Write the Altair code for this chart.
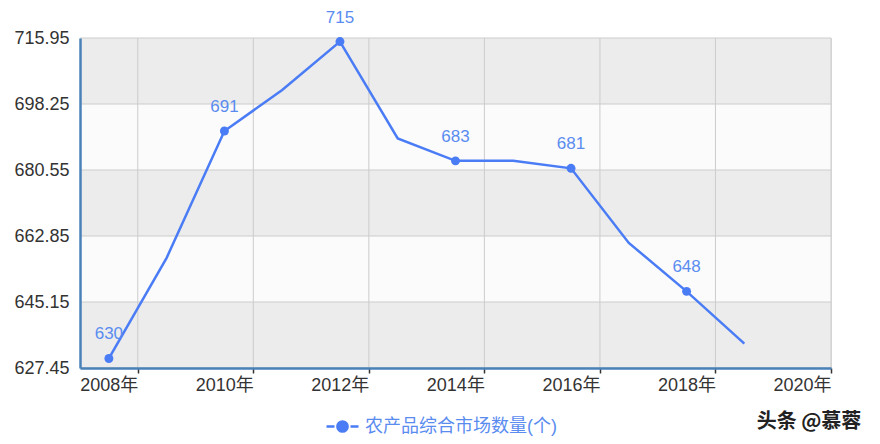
import altair as alt
import pandas as pd

# ---- data ----
years = [2007.5, 2008.5, 2009.5, 2010.5, 2011.5, 2012.5, 2013.5, 2014.5, 2015.5, 2016.5, 2017.5, 2018.5]
values = [630, 657, 691, 702, 715, 689, 683, 683, 681, 661, 648, 634]
labeled = [True, False, True, False, True, False, True, False, True, False, True, False]
y_ticks = [627.45, 645.15, 662.85, 680.55, 698.25, 715.95]
x_ticks = [2008, 2010, 2012, 2014, 2016, 2018, 2020]
x_domain = [2007, 2020]
series = "农产品综合市场数量(个)"
watermark = "头条 @慕蓉"

LINE = "#4a7cf5"
LABEL = "#5a8cf0"
AXIS = "#4a82b8"
FONT = "Liberation Sans, Arial, Noto Sans CJK SC"

df = pd.DataFrame({"year": years, "value": values, "labeled": labeled, "series": series})
pts = df[df["labeled"]].copy()

band_colors = ["#ececec", "#fbfbfb"]
bands = pd.DataFrame({
    "lo": y_ticks[:-1],
    "hi": y_ticks[1:],
    "c": [band_colors[i % 2] for i in range(len(y_ticks) - 1)],
    "x0": x_domain[0],
    "x1": x_domain[1],
})

xs = alt.Scale(domain=x_domain, nice=False, zero=False)
ys = alt.Scale(domain=[y_ticks[0], y_ticks[-1]], nice=False, zero=False)

x_axis = alt.Axis(
    values=x_ticks,
    labelExpr="datum.value + '年'",
    grid=False,
    domainColor=AXIS,
    domainWidth=2.5,
    tickColor="#333333",
    tickSize=5,
    tickWidth=1.5,
    labelAlign="right",
    labelFontSize=18,
    labelColor="#333333",
    labelFont=FONT,
    labelPadding=3,
    labelFlush=False,
    zindex=1,
)
y_axis = alt.Axis(
    values=y_ticks,
    format=".2f",
    grid=False,
    ticks=False,
    domainColor=AXIS,
    domainWidth=2.5,
    labelFontSize=18,
    labelColor="#333333",
    labelFont=FONT,
    labelPadding=11,
    labelFlush=False,
    zindex=1,
)

band_layer = alt.Chart(bands).mark_rect().encode(
    x=alt.X("x0:Q", scale=xs, axis=x_axis, title=None),
    x2="x1:Q",
    y=alt.Y("lo:Q", scale=ys, axis=y_axis, title=None),
    y2="hi:Q",
    fill=alt.Fill("c:N", scale=None),
)

vgrid = alt.Chart(pd.DataFrame({"x": x_ticks})).mark_rule(color="#cccccc", strokeWidth=1).encode(
    x=alt.X("x:Q", scale=xs, title=None)
)
hgrid = alt.Chart(pd.DataFrame({"y": y_ticks})).mark_rule(color="#cccccc", strokeWidth=1).encode(
    y=alt.Y("y:Q", scale=ys, title=None)
)

line = alt.Chart(df).mark_line(color=LINE, strokeWidth=2.5).encode(
    x=alt.X("year:Q", scale=xs, title=None),
    y=alt.Y("value:Q", scale=ys, title=None),
)

legend_symbol = "M-1,0H-0.5M0.5,0H1M0.32,0A0.32,0.32,0,1,1,-0.32,0A0.32,0.32,0,1,1,0.32,0Z"

points = alt.Chart(pts).mark_circle(size=80, opacity=1).encode(
    x=alt.X("year:Q", scale=xs, title=None),
    y=alt.Y("value:Q", scale=ys, title=None),
    color=alt.Color(
        "series:N",
        scale=alt.Scale(domain=[series], range=[LINE]),
        legend=alt.Legend(
            title=None,
            orient="none",
            legendX=245,
            legendY=371,
            symbolType=legend_symbol,
            symbolSize=1024,
            symbolStrokeWidth=2.5,
            symbolStrokeColor=LINE,
            symbolFillColor=LINE,
            labelFontSize=18,
            labelFont=FONT,
            labelColor=LABEL,
            labelOffset=5,
            labelLimit=400,
        ),
    ),
)

labels = alt.Chart(pts).mark_text(dy=-24, fontSize=17, font=FONT, color=LABEL).encode(
    x=alt.X("year:Q", scale=xs, title=None),
    y=alt.Y("value:Q", scale=ys, title=None),
    text=alt.Text("value:Q", format="d"),
)

wm = alt.Chart(pd.DataFrame({"t": [watermark]})).mark_text(
    fontSize=20, font="Noto Sans CJK SC", color="#222222", fontWeight="bold"
).encode(
    x=alt.value(729),
    y=alt.value(384),
    text="t:N",
)

chart = alt.layer(band_layer, vgrid, hgrid, line, points, labels, wm).properties(
    width=751,
    height=330,
    autosize=alt.AutoSizeParams(type="none"),
    padding={"left": 72, "top": 30, "right": 41, "bottom": 68},
).configure_view(stroke=None).configure(background="white")

chart.save("out.html", embed_options={"renderer": "svg", "actions": False})
